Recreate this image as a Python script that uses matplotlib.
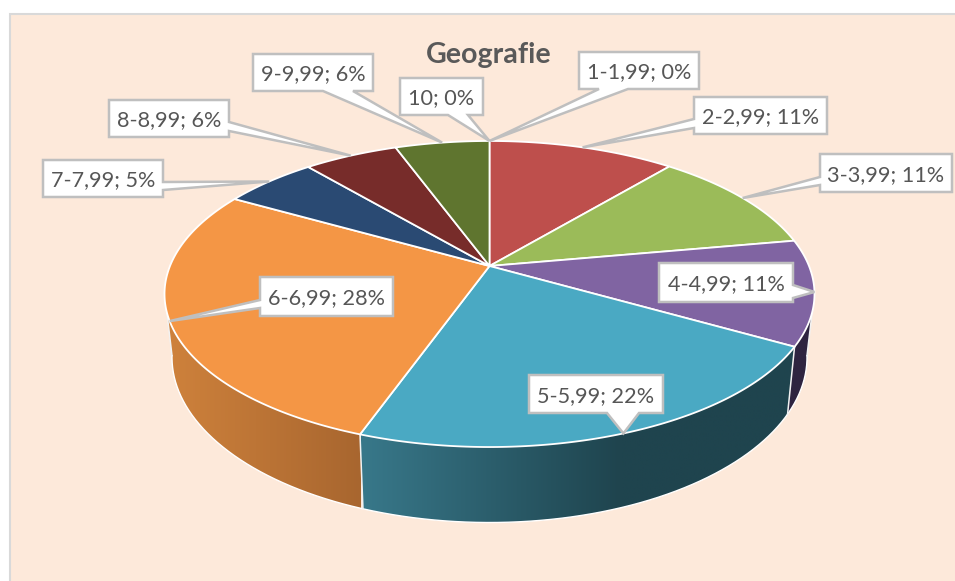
import numpy as np
import matplotlib
matplotlib.use("Agg")
import matplotlib.pyplot as plt
from matplotlib.patches import Polygon, Rectangle

# ---- data ----
categories = ["1-1,99", "2-2,99", "3-3,99", "4-4,99", "5-5,99", "6-6,99",
              "7-7,99", "8-8,99", "9-9,99", "10"]
shares = [0.0, 11.1, 11.1, 11.1, 22.2, 27.8, 5.6, 5.6, 5.6, 0.0]
shown_pct = [0, 11, 11, 11, 22, 28, 5, 6, 6, 0]
title = "Geografie"

# ---- styles ----
colors = ["#4F81BD", "#BE4F4C", "#9BBB59", "#8064A2", "#4AA9C3", "#F49645",
          "#2A4A73", "#772C2A", "#5F752F", "#F79646"]
side_stops = {
    3: [(780, (46, 36, 64)), (815, (46, 36, 64))],
    4: [(361, (56, 120, 138)), (620, (31, 68, 78)), (810, (31, 68, 78))],
    5: [(165, (207, 130, 60)), (360, (168, 102, 47))],
}
# label boxes: x0, x1, y0, y1, side of pointer, pointer base start, end
boxes = [
    (579, 699, 52, 89, "b", 599, 628),
    (694, 827, 97, 134, "l", 119, 128),
    (820, 952, 154, 192, "l", 177, 185),
    (659, 793, 263, 302, "r", 285, 298),
    (529, 663, 375, 413, "b", 607, 639),
    (260, 393, 277, 316, "l", 300, 308),
    (43, 163, 160, 197, "r", 182, 190),
    (109, 229, 100, 137, "r", 122, 131),
    (253, 373, 54, 91, "b", 323, 353),
    (400, 483, 78, 115, "b", 448, 468),
]
FONT = "Lato"
TXT = "#565656"
EDGE = "#BFBFBF"

CX, CY, A, B, K = 489.5, 266.0, 319.5, 147.9, 0.183
SX, SY, Y0 = 0.977, 1.08, 327.0


def top(theta):
    u, v = np.sin(theta), np.cos(theta)
    d = 1 + K * v
    return CX + A * u / d, CY - B * v / d


def bottom(theta):
    u, v = np.sin(theta), np.cos(theta)
    d = 1 + K * v
    return CX + SX * A * u / d, Y0 - SY * B * v / d


fig = plt.figure(figsize=(9.55, 5.81), dpi=100, facecolor="white")
ax = fig.add_axes([0, 0, 1, 1])
ax.axis("off")

ax.add_patch(Rectangle((10, 14), 960, 590, facecolor="#FDE9DA", edgecolor="#D9D9D9", lw=1.5, zorder=0))

vals = np.array(shares) / sum(shares)
edges = np.concatenate([[0], np.cumsum(vals)]) * 2 * np.pi
vis0, vis1 = np.radians(100), np.radians(260)

# side walls: one clipped horizontal gradient per wedge
for i, stops in side_stops.items():
    a0, a1 = max(edges[i], vis0), min(edges[i + 1], vis1)
    th = np.linspace(a0, a1, 150)
    tx, ty = top(th)
    ux, uy = bottom(th)
    pts = np.vstack([np.column_stack([tx, ty]), np.column_stack([ux, uy])[::-1]])
    poly = Polygon(pts, closed=True, facecolor="none", edgecolor="none", zorder=2)
    ax.add_patch(poly)
    xs = np.linspace(stops[0][0], stops[-1][0], 256)
    grad = np.stack([np.interp(xs, [s[0] for s in stops], [s[1][c] for s in stops]) / 255
                     for c in range(3)], axis=-1)[None, :, :]
    im = ax.imshow(grad, extent=(stops[0][0], stops[-1][0], 560, 250), aspect="auto",
                   interpolation="bilinear", zorder=2)
    im.set_clip_path(poly)

ax.set_xlim(0, 955)
ax.set_ylim(581, 0)

# white outer rim of the wall and seams between wedges
th = np.linspace(vis0, vis1, 200)
bx, by = bottom(th)
ax.plot(bx, by, color="white", lw=1.0, zorder=3)
for e in list(edges[4:6]) + [vis0, vis1]:
    tx, ty = top(e)
    ux, uy = bottom(e)
    ax.plot([tx, ux], [ty, uy], color="#F2F2F2", lw=1.1, zorder=3)

# top face
for i, v in enumerate(vals):
    if v <= 0:
        continue
    th = np.linspace(edges[i], edges[i + 1], 120)
    x, y = top(th)
    pts = np.vstack([[CX, CY], np.column_stack([x, y])])
    ax.add_patch(Polygon(pts, closed=True, facecolor=colors[i], edgecolor="white",
                         lw=1.3, joinstyle="round", zorder=4))

ax.text(CX - 0.5, 55, title, ha="center", va="center", fontsize=20.6, fontweight="bold",
        color="#595959", family=FONT, zorder=6)

# data labels with callout pointers
for i, (cat, pct, bx_) in enumerate(zip(categories, shown_pct, boxes)):
    x0, x1, y0, y1, s, a, b = bx_
    mid = (edges[i] + edges[i + 1]) / 2
    tip = top(mid)
    if s == "b":
        poly = [(x0, y0), (x1, y0), (x1, y1), (b, y1), tip, (a, y1), (x0, y1)]
    elif s == "r":
        poly = [(x0, y0), (x1, y0), (x1, a), tip, (x1, b), (x1, y1), (x0, y1)]
    else:
        poly = [(x0, y0), (x1, y0), (x1, y1), (x0, y1), (x0, b), tip, (x0, a)]
    ax.add_patch(Polygon(poly, closed=True, facecolor="white", edgecolor=EDGE, lw=1.8,
                         joinstyle="miter", zorder=5))
    ax.text((x0 + x1) / 2, (y0 + y1) / 2, f"{cat}; {pct}%", ha="center", va="center_baseline",
            fontsize=15.6, color=TXT, family=FONT, zorder=6)

fig.savefig("out.png", dpi=100, facecolor="white")
